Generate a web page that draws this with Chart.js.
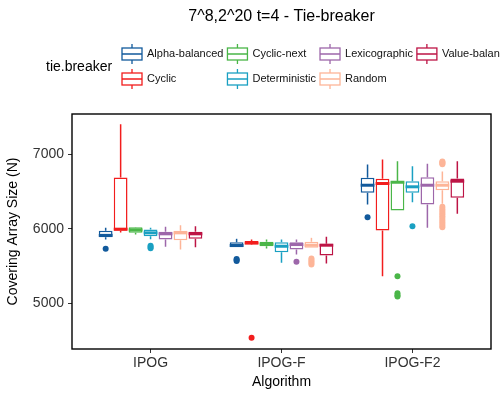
<!DOCTYPE html>
<html>
<head>
<meta charset="utf-8">
<script src="https://cdn.jsdelivr.net/npm/chart.js@4.4.1/dist/chart.umd.min.js"></script>
<style>
  html, body { margin: 0; padding: 0; background: #fff; }
</style>
</head>
<body>
<canvas id="chart" width="500" height="400"></canvas>
<script>
var algorithms = ['IPOG', 'IPOG-F', 'IPOG-F2'];
var algorithmPos = [1, 2, 3];
var yTicks = [5000, 6000, 7000];
var tieBreakers = ['Alpha-balanced', 'Cyclic', 'Cyclic-next', 'Deterministic', 'Lexicographic', 'Random', 'Value-balanced'];
var tieColors = ['#125a9c', '#f21d1d', '#4ab648', '#1aa0c2', '#9d67aa', '#fdb598', '#bd1445'];

// one row per algorithm: [lower whisker, q1, median, q3, upper whisker]
var alphaBalanced = [[5856, 5887, 5912, 5973, 6013], [5753, 5753, 5776, 5820, 5866], [6326, 6483, 6585, 6684, 6863]];
var cyclic = [[5950, 5975, 5995, 6690, 7405], [5789, 5795, 5808, 5835, 5858], [5364, 5977, 6608, 6671, 6930]];
var cyclicNext = [[5923, 5946, 5985, 6021, 6025], [5736, 5766, 5795, 5826, 5856], [6246, 6246, 6625, 6639, 6907]];
var deterministic = [[5860, 5901, 5946, 5991, 6013], [5544, 5686, 5766, 5820, 5856], [6357, 6483, 6564, 6639, 6840]];
var lexicographic = [[5758, 5856, 5933, 5960, 6027], [5655, 5722, 5789, 5820, 5856], [6013, 6326, 6585, 6692, 6872]];
var random = [[5722, 5847, 5946, 5973, 6048], [5745, 5745, 5780, 5826, 5879], [6335, 6518, 6585, 6639, 6770]];
var valueBalanced = [[5753, 5866, 5933, 5960, 6035], [5534, 5642, 5780, 5799, 5893], [6201, 6416, 6639, 6675, 6907]];

// outliers per algorithm
var alphaBalancedOut = [[5732], [5567, 5580, 5594], [6156]];
var cyclicOut = [[], [4537], []];
var cyclicNextOut = [[], [], [5364, 5135, 5110, 5090]];
var deterministicOut = [[5740, 5756, 5772], [], [6035]];
var lexicographicOut = [[], [5557], []];
var randomOut = [[], [5520, 5540, 5560, 5580, 5600], [6865, 6880, 6895, 6905, 6020, 6045, 6070, 6095, 6120, 6145, 6170, 6195, 6220, 6245, 6270, 6295]];
var valueBalancedOut = [[], [], []];

var boxStats = [alphaBalanced, cyclic, cyclicNext, deterministic, lexicographic, random, valueBalanced];
var outliers = [alphaBalancedOut, cyclicOut, cyclicNextOut, deterministicOut, lexicographicOut, randomOut, valueBalancedOut];

var FONT = "'Liberation Sans', Arial, sans-serif";
Chart.defaults.font.family = FONT;

var datasets = tieBreakers.map(function (name, s) {
    return {
        label: name,
        data: boxStats[s].map(function (b, i) { return { x: algorithmPos[i], y: [b[1], b[3]] }; }),
        backgroundColor: '#ffffff',
        borderColor: tieColors[s],
        borderWidth: 1.5,
        borderSkipped: false,
        categoryPercentage: 0.8,
        barPercentage: 0.92
    };
});

// whiskers, medians, outliers, panel border, title and legend
var boxPlugin = {
    id: 'boxParts',
    beforeDatasetsDraw: function (chart) {
        var ctx = chart.ctx, y = chart.scales.y;
        ctx.save();
        ctx.lineWidth = 1.5;
        chart.data.datasets.forEach(function (ds, s) {
            chart.getDatasetMeta(s).data.forEach(function (bar, i) {
                var b = boxStats[s][i];
                ctx.strokeStyle = tieColors[s];
                ctx.beginPath();
                ctx.moveTo(bar.x, y.getPixelForValue(b[4]));
                ctx.lineTo(bar.x, y.getPixelForValue(b[3]));
                ctx.moveTo(bar.x, y.getPixelForValue(b[1]));
                ctx.lineTo(bar.x, y.getPixelForValue(b[0]));
                ctx.stroke();
            });
        });
        ctx.restore();
    },
    afterDatasetsDraw: function (chart) {
        var ctx = chart.ctx, y = chart.scales.y;
        ctx.save();
        chart.data.datasets.forEach(function (ds, s) {
            chart.getDatasetMeta(s).data.forEach(function (bar, i) {
                var b = boxStats[s][i];
                var half = bar.width / 2;
                var my = y.getPixelForValue(b[2]);
                ctx.strokeStyle = tieColors[s];
                ctx.lineWidth = 3;
                ctx.beginPath();
                ctx.moveTo(bar.x - half, my);
                ctx.lineTo(bar.x + half, my);
                ctx.stroke();
                ctx.fillStyle = tieColors[s];
                outliers[s][i].forEach(function (v) {
                    ctx.beginPath();
                    ctx.arc(bar.x, y.getPixelForValue(v), 3, 0, Math.PI * 2);
                    ctx.fill();
                });
            });
        });
        ctx.restore();
    },
    afterDraw: function (chart) {
        var ctx = chart.ctx, a = chart.chartArea;
        ctx.save();
        ctx.strokeStyle = '#000';
        ctx.lineWidth = 1.4;
        ctx.strokeRect(a.left, a.top, a.right - a.left, a.bottom - a.top);

        // title
        ctx.fillStyle = '#000';
        ctx.font = '16px ' + FONT;
        ctx.textAlign = 'center';
        ctx.textBaseline = 'alphabetic';
        ctx.fillText('7^8,2^20 t=4 - Tie-breaker', (a.left + a.right) / 2, 21);

        // legend
        ctx.textAlign = 'left';
        ctx.textBaseline = 'middle';
        ctx.font = '14px ' + FONT;
        ctx.fillText('tie.breaker', 46, 67);
        ctx.font = '11px ' + FONT;
        var colX = [122];
        for (var c = 0; c < 4; c++) {
            var w = 0;
            for (var r = 0; r < 2; r++) {
                var k = c * 2 + r;
                if (k < tieBreakers.length) w = Math.max(w, ctx.measureText(tieBreakers[k]).width);
            }
            colX.push(colX[c] + 25 + w + 4);
        }
        tieBreakers.forEach(function (name, k) {
            var x0 = colX[Math.floor(k / 2)];
            var cy = 54 + (k % 2) * 25;
            ctx.strokeStyle = tieColors[k];
            ctx.lineWidth = 1.3;
            ctx.beginPath();
            ctx.moveTo(x0 + 10, cy - 10); ctx.lineTo(x0 + 10, cy - 6);
            ctx.moveTo(x0 + 10, cy + 6); ctx.lineTo(x0 + 10, cy + 10);
            ctx.moveTo(x0, cy); ctx.lineTo(x0 + 20, cy);
            ctx.stroke();
            ctx.strokeRect(x0, cy - 6, 20, 12);
            ctx.fillStyle = '#111';
            ctx.fillText(name, x0 + 25, cy);
        });
        ctx.restore();
    }
};

new Chart(document.getElementById('chart').getContext('2d'), {
    type: 'bar',
    data: { datasets: datasets },
    options: {
        responsive: false,
        animation: false,
        layout: { padding: { left: 0, top: 114, right: 9, bottom: 0 } },
        plugins: { legend: { display: false }, tooltip: { enabled: false }, title: { display: false } },
        scales: {
            x: {
                type: 'linear',
                min: 0.4,
                max: 3.6,
                offset: false,
                afterBuildTicks: function (scale) {
                    scale.ticks = algorithmPos.map(function (v) { return { value: v }; });
                },
                afterFit: function (scale) { scale.height = 51; },
                grid: { drawOnChartArea: false, offset: false, tickLength: 4, color: '#333', lineWidth: 1 },
                border: { display: false },
                ticks: {
                    padding: 2,
                    color: '#333',
                    font: { size: 14 },
                    maxRotation: 0,
                    callback: function (v) { return algorithms[algorithmPos.indexOf(v)]; }
                },
                title: { display: true, text: 'Algorithm', color: '#000', font: { size: 14 }, padding: { top: 0, bottom: 9 } }
            },
            y: {
                min: 4387,
                max: 7541,
                afterBuildTicks: function (scale) {
                    scale.ticks = yTicks.map(function (v) { return { value: v }; });
                },
                afterFit: function (scale) { scale.width = 72; },
                grid: { drawOnChartArea: false, tickLength: 4, color: '#333', lineWidth: 1 },
                border: { display: false },
                ticks: { padding: 4, color: '#333', font: { size: 14 }, callback: function (v) { return String(v); } },
                title: { display: true, text: 'Covering Array Size (N)', color: '#000', font: { size: 14 }, padding: { top: 5, bottom: 0 } }
            }
        }
    },
    plugins: [boxPlugin]
});
</script>
</body>
</html>
